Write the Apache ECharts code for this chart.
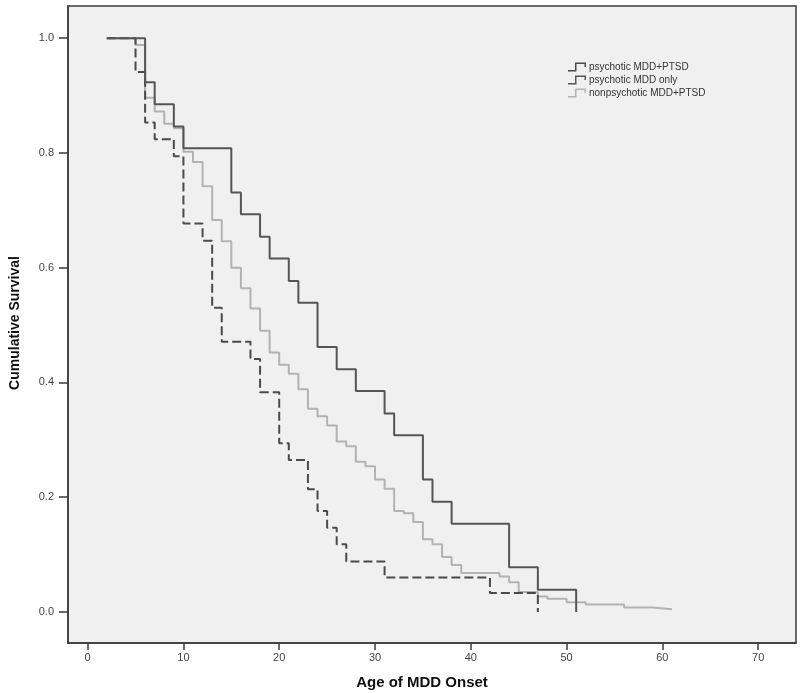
<!DOCTYPE html>
<html>
<head>
<meta charset="utf-8">
<script src="https://cdn.jsdelivr.net/npm/echarts@6/dist/echarts.min.js"></script>
<style>
  html, body { margin: 0; padding: 0; background: #fff; }
  #km { width: 800px; height: 693px; }
</style>
</head>
<body>
<div id="km"></div>
<script>
// Kaplan-Meier curves (age at step, survival after step)
const seriesNames = ['psychotic MDD+PTSD', 'psychotic MDD only', 'nonpsychotic MDD+PTSD'];

const psyPtsdAge  = [2, 5, 6, 7, 9, 10, 12, 13, 14, 17, 18, 20, 21, 23, 24, 25, 26, 27, 31, 42, 47];
const psyPtsdSurv = [1.0, 0.941, 0.853, 0.824, 0.794, 0.677, 0.647, 0.530, 0.471, 0.441, 0.383, 0.294, 0.265, 0.214, 0.176, 0.147, 0.118, 0.088, 0.060, 0.033, 0.0];

const psyOnlyAge  = [2, 6, 7, 9, 10, 15, 16, 18, 19, 21, 22, 24, 26, 28, 31, 32, 35, 36, 38, 44, 47, 51];
const psyOnlySurv = [1.0, 0.923, 0.885, 0.846, 0.808, 0.731, 0.693, 0.654, 0.616, 0.577, 0.539, 0.462, 0.423, 0.385, 0.346, 0.308, 0.231, 0.192, 0.154, 0.078, 0.039, 0.0];

const nonPsyAge  = [2, 5, 6, 7, 8, 9, 10, 11, 12, 13, 14, 15, 16, 17, 18, 19, 20, 21, 22, 23, 24, 25, 26, 27, 28, 29, 30, 31, 32, 33, 34, 35, 36, 37, 38, 39, 43, 44, 45, 47, 48, 50, 52, 56, 59, 61];
const nonPsySurv = [1.0, 0.988, 0.896, 0.872, 0.851, 0.843, 0.802, 0.784, 0.742, 0.683, 0.646, 0.600, 0.564, 0.529, 0.490, 0.452, 0.431, 0.415, 0.388, 0.354, 0.341, 0.325, 0.297, 0.289, 0.262, 0.254, 0.231, 0.215, 0.176, 0.172, 0.157, 0.127, 0.118, 0.096, 0.082, 0.068, 0.062, 0.052, 0.035, 0.027, 0.023, 0.017, 0.013, 0.008, 0.005, 0.005];

const xTicks = [0, 10, 20, 30, 40, 50, 60, 70];
const yTicks = [0, 0.2, 0.4, 0.6, 0.8, 1.0];

function pairs(xs, ys) {
  return xs.map(function (x, i) { return [x, ys[i]]; });
}

const stepIcon = 'path://M0,15 L14,15 L14,0 L36,0 L36,9 L33,9 L33,3 L17,3 L17,18 L0,18 Z';
const axisFont = 'Liberation Sans, Arial, sans-serif';

const chart = echarts.init(document.getElementById('km'));

const option = {
  animation: false,
  backgroundColor: '#ffffff',
  grid: {
    left: 68, right: 4, top: 6, bottom: 50,
    show: true,
    backgroundColor: '#f0f0f0',
    borderColor: '#3a3a3a',
    borderWidth: 1.5
  },
  legend: {
    orient: 'vertical',
    left: 568,
    top: 62,
    itemWidth: 18,
    itemHeight: 9,
    itemGap: 3,
    padding: 0,
    itemStyle: { borderWidth: 0 },
    textStyle: { fontSize: 10, color: '#333', fontFamily: axisFont, padding: [0, 0, 0, -2] },
    data: seriesNames.map(function (n) { return { name: n, icon: stepIcon }; })
  },
  xAxis: {
    type: 'value',
    min: -2.05,
    max: 73.95,
    splitLine: { show: false },
    axisLine: { show: true, onZero: false, lineStyle: { color: '#3a3a3a', width: 1.5 } },
    axisTick: { show: true, customValues: xTicks, length: 7, lineStyle: { color: '#3a3a3a', width: 1.5 } },
    axisLabel: { customValues: xTicks, margin: 9, fontSize: 11, color: '#444', fontFamily: axisFont }
  },
  yAxis: {
    type: 'value',
    min: -0.054,
    max: 1.056,
    splitLine: { show: false },
    axisLine: { show: true, onZero: false, lineStyle: { color: '#3a3a3a', width: 1.5 } },
    axisTick: { show: true, customValues: yTicks, length: 9, lineStyle: { color: '#3a3a3a', width: 1.5 } },
    axisLabel: {
      customValues: yTicks, margin: 14, fontSize: 11, color: '#444', fontFamily: axisFont,
      formatter: function (v) { return v.toFixed(1); }
    }
  },
  graphic: [
    {
      type: 'text', x: 422, y: 683,
      style: { text: 'Age of MDD Onset', textAlign: 'center', textVerticalAlign: 'middle',
               font: 'bold 15px Liberation Sans, Arial, sans-serif', fill: '#111' }
    },
    {
      type: 'text', x: 15, y: 323, rotation: Math.PI / 2,
      style: { text: 'Cumulative Survival', textAlign: 'center', textVerticalAlign: 'middle',
               font: 'bold 14px Liberation Sans, Arial, sans-serif', fill: '#111' }
    }
  ],
  series: [
    {
      name: seriesNames[0], type: 'line', step: 'end', showSymbol: false, symbol: 'none',
      data: pairs(psyPtsdAge, psyPtsdSurv),
      itemStyle: { color: '#4a4a4a' },
      lineStyle: { color: '#4a4a4a', width: 2, type: [9, 4] },
      z: 3
    },
    {
      name: seriesNames[1], type: 'line', step: 'end', showSymbol: false, symbol: 'none',
      data: pairs(psyOnlyAge, psyOnlySurv),
      itemStyle: { color: '#555555' },
      lineStyle: { color: '#555555', width: 2 },
      z: 4
    },
    {
      name: seriesNames[2], type: 'line', step: 'end', showSymbol: false, symbol: 'none',
      data: pairs(nonPsyAge, nonPsySurv),
      itemStyle: { color: '#b2b2b2' },
      lineStyle: { color: '#b2b2b2', width: 2 },
      z: 2
    }
  ]
};

chart.setOption(option);
</script>
</body>
</html>
